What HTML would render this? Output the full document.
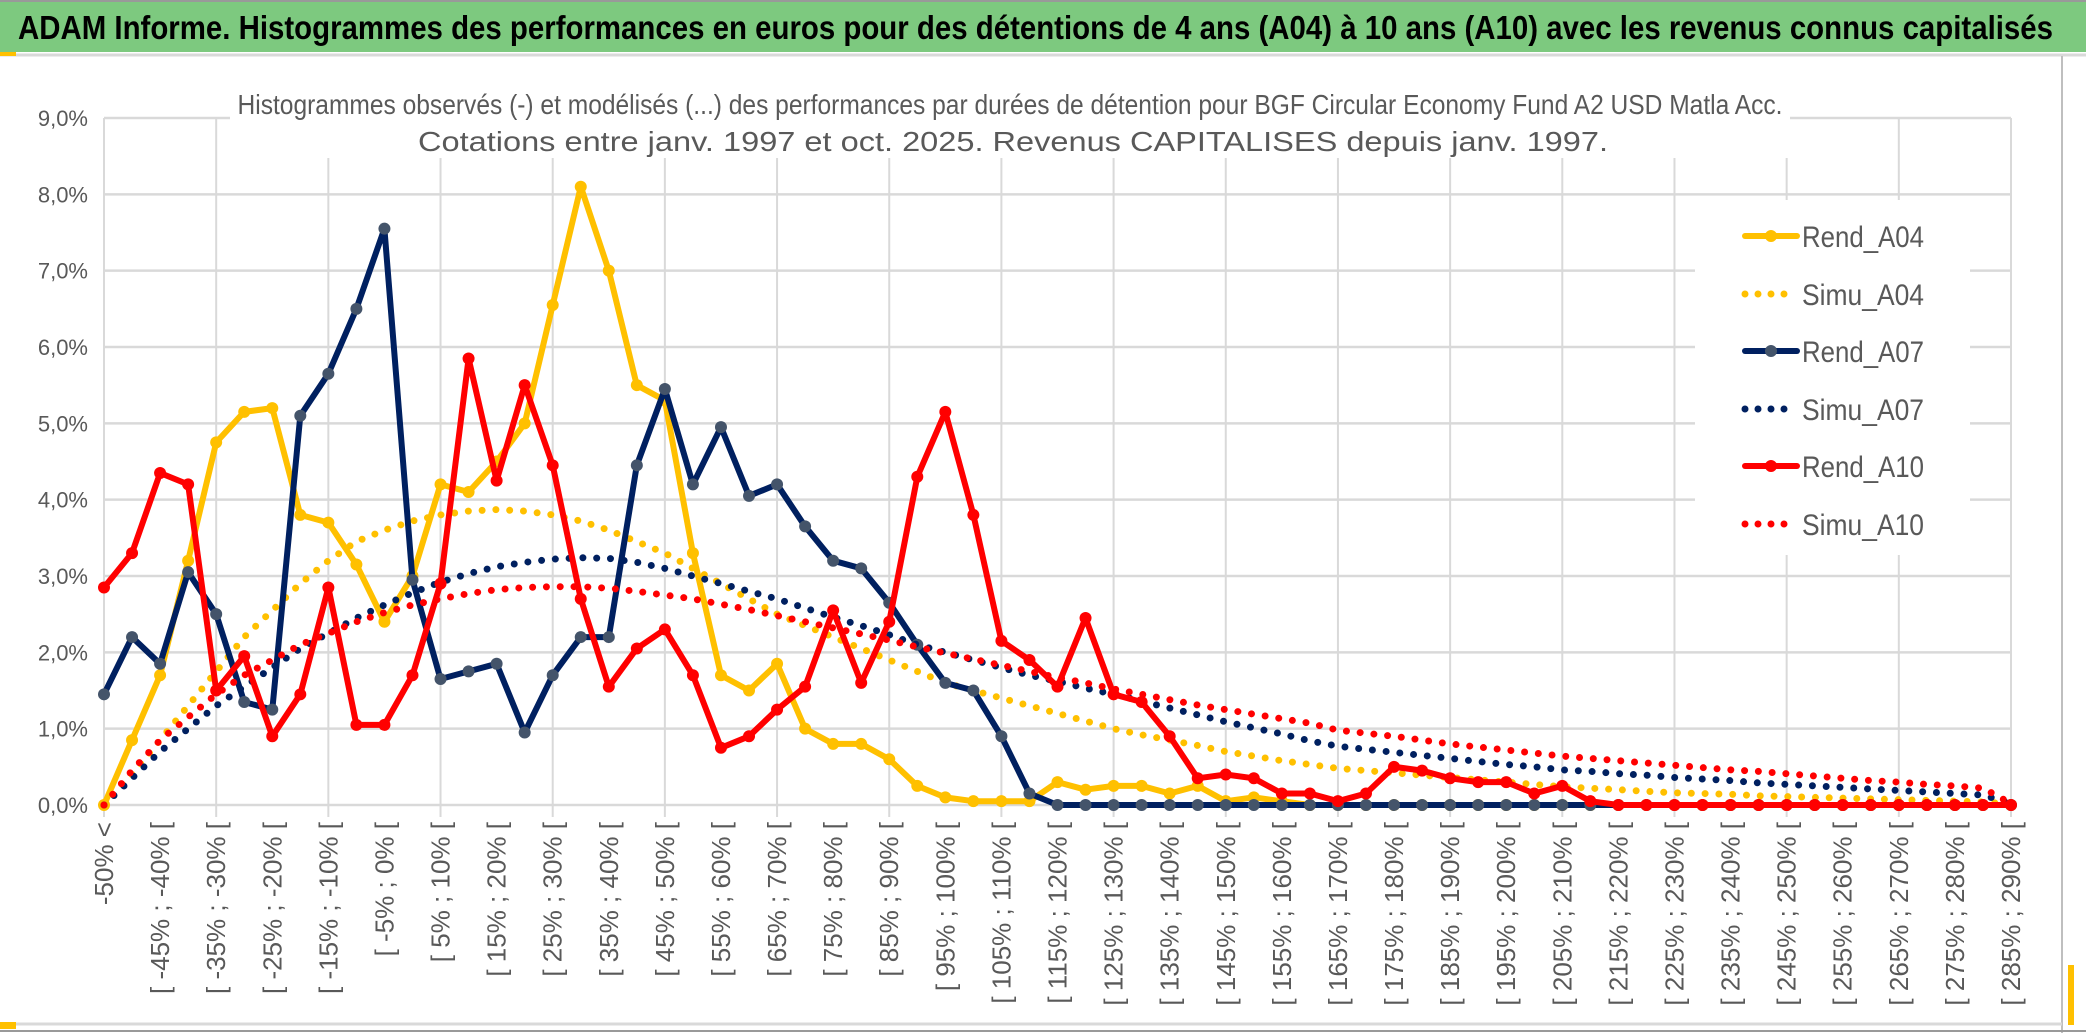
<!DOCTYPE html>
<html><head><meta charset="utf-8">
<style>
html,body{margin:0;padding:0;background:#fff;}
svg{display:block;font-family:"Liberation Sans",sans-serif;}
</style></head>
<body>
<svg id="chart" width="2086" height="1033" viewBox="0 0 2086 1033" xmlns="http://www.w3.org/2000/svg">
  <rect x="0" y="0" width="2086" height="1033" fill="#fff"/>
  <rect x="0" y="2" width="2086" height="50" fill="#7dc97f"/>
  <line x1="0" y1="1" x2="2086" y2="1" stroke="#999" stroke-width="2"/>
  <line x1="0" y1="55" x2="2086" y2="55" stroke="#d9d9d9" stroke-width="3"/>
  <rect x="0" y="52" width="16" height="4" fill="#ffc000"/>
  <text x="18" y="39" font-size="33" font-weight="bold" fill="#000" textLength="2035" lengthAdjust="spacingAndGlyphs">ADAM Informe. Histogrammes des performances en euros pour des détentions de 4 ans (A04) à 10 ans (A10) avec les revenus connus capitalisés</text>
  <line x1="2062" y1="56" x2="2062" y2="1033" stroke="#bfbfbf" stroke-width="2"/>
  <line x1="0" y1="1024" x2="2062" y2="1024" stroke="#d9d9d9" stroke-width="3"/>
  <line x1="0" y1="1031" x2="2086" y2="1031" stroke="#999" stroke-width="2"/>
  <rect x="0" y="1022" width="16" height="7" fill="#ffc000"/>
  <rect x="2068" y="965" width="6" height="60" fill="#ffc000"/>
  <g id="grid"></g>
  <rect x="230" y="82" width="1560" height="76" fill="#fff"/>
  <text x="1010" y="114" font-size="28" fill="#595959" text-anchor="middle" textLength="1545" lengthAdjust="spacingAndGlyphs">Histogrammes observés (-) et modélisés (...) des performances par durées de détention pour BGF Circular Economy Fund A2 USD Matla Acc.</text>
  <text x="1013" y="151" font-size="28" fill="#595959" text-anchor="middle" textLength="1190" lengthAdjust="spacingAndGlyphs">Cotations entre janv. 1997 et oct. 2025. Revenus CAPITALISES depuis janv. 1997.</text>
  <g id="yaxis"></g>
  <g id="xaxis"></g>
  <g id="series"></g>
  <g id="legend"></g>
</svg>
<script>
const rendA04 = [0,0.85,1.7,3.2,4.75,5.15,5.2,3.8,3.7,3.15,2.4,3.0,4.2,4.1,4.5,5.0,6.55,8.1,7.0,5.5,5.3,3.3,1.7,1.5,1.85,1.0,0.8,0.8,0.6,0.25,0.1,0.05,0.05,0.05,0.3,0.2,0.25,0.25,0.15,0.25,0.05,0.1,0.05,0,0,0,0,0,0,0,0,0,0,0,0,0,0,0,0,0,0,0,0,0,0,0,0,0,0];
const simuA04 = [0,0.4,0.85,1.3,1.75,2.2,2.55,2.9,3.2,3.45,3.6,3.72,3.8,3.85,3.87,3.85,3.8,3.72,3.6,3.45,3.3,3.1,2.9,2.7,2.5,2.35,2.2,2.05,1.9,1.75,1.6,1.5,1.4,1.3,1.2,1.1,1.0,0.92,0.85,0.78,0.7,0.64,0.58,0.53,0.48,0.45,0.42,0.39,0.36,0.33,0.3,0.27,0.24,0.22,0.2,0.18,0.16,0.15,0.14,0.12,0.11,0.1,0.09,0.08,0.07,0.06,0.05,0.04,0.01];
const rendA07 = [1.45,2.2,1.85,3.05,2.5,1.35,1.25,5.1,5.65,6.5,7.55,2.95,1.65,1.75,1.85,0.95,1.7,2.2,2.2,4.45,5.45,4.2,4.95,4.05,4.2,3.65,3.2,3.1,2.65,2.1,1.6,1.5,0.9,0.15,0,0,0,0,0,0,0,0,0,0,0,0,0,0,0,0,0,0,0,0,0,0,0,0,0,0,0,0,0,0,0,0,0,0,0];
const simuA07 = [0,0.35,0.7,1.0,1.3,1.55,1.8,2.05,2.25,2.45,2.62,2.78,2.92,3.03,3.12,3.18,3.22,3.24,3.23,3.18,3.1,3.0,2.9,2.8,2.7,2.58,2.46,2.35,2.23,2.1,2.0,1.9,1.8,1.7,1.62,1.53,1.45,1.36,1.27,1.18,1.09,1.01,0.93,0.84,0.77,0.73,0.69,0.65,0.61,0.57,0.53,0.5,0.46,0.44,0.41,0.39,0.36,0.34,0.32,0.29,0.27,0.25,0.23,0.21,0.19,0.17,0.15,0.13,0.02];
const rendA10 = [2.85,3.3,4.35,4.2,1.5,1.95,0.9,1.45,2.85,1.05,1.05,1.7,2.9,5.85,4.25,5.5,4.45,2.7,1.55,2.05,2.3,1.7,0.75,0.9,1.25,1.55,2.55,1.6,2.4,4.3,5.15,3.8,2.15,1.9,1.55,2.45,1.45,1.35,0.9,0.35,0.4,0.35,0.15,0.15,0.05,0.15,0.5,0.45,0.35,0.3,0.3,0.15,0.25,0.05,0,0,0,0,0,0,0,0,0,0,0,0,0,0,0];
const simuA10 = [0,0.45,0.85,1.15,1.45,1.7,1.9,2.1,2.25,2.4,2.52,2.62,2.7,2.77,2.82,2.85,2.86,2.86,2.84,2.8,2.75,2.7,2.63,2.56,2.48,2.4,2.32,2.24,2.16,2.07,1.99,1.91,1.83,1.75,1.67,1.6,1.52,1.45,1.38,1.31,1.25,1.19,1.13,1.07,0.98,0.94,0.9,0.85,0.8,0.76,0.72,0.68,0.64,0.61,0.58,0.55,0.52,0.49,0.46,0.44,0.41,0.38,0.35,0.32,0.3,0.27,0.25,0.22,0.02];
const yTicks = [0,1,2,3,4,5,6,7,8,9];
const categoryCount = 69;
const xLabels = [];
for (let k = 0; k <= 33; k++) {
  xLabels.push(k === 0 ? "-50% <" : "[ " + (10*k-55) + "% ; " + (10*k-50) + "% [");
}
xLabels.push("[ 285% ; 290% [");

const NS = "http://www.w3.org/2000/svg";
const L = 104, R = 2011, Y0 = 805, Y9 = 118;
function xs(i){ return L + i*(R-L)/(categoryCount-1); }
function ys(v){ return Y0 - v*(Y0-Y9)/9; }
function mk(tag, attrs, parent){
  const e = document.createElementNS(NS, tag);
  for (const k in attrs) e.setAttribute(k, attrs[k]);
  parent.appendChild(e); return e;
}
const grid = document.getElementById('grid');
yTicks.forEach(t => {
  const g = mk('line',{x1:L,x2:R,y1:ys(t),y2:ys(t),stroke:'#d9d9d9','stroke-width':2.5},grid);
  
  
});
for (let i = 0; i < categoryCount; i += 4) {
  const g = mk('line',{x1:xs(i),x2:xs(i),y1:Y9,y2:Y0+12,stroke:'#d9d9d9','stroke-width':2},grid);
  
  
}
const yaxis = document.getElementById('yaxis');
yTicks.forEach(t => {
  const tx = mk('text',{x:88,y:ys(t)+8,'font-size':22,fill:'#595959','text-anchor':'end'},yaxis);
  tx.textContent = t.toFixed(1).replace('.',',') + '%';
  
  
});
const xaxis = document.getElementById('xaxis');
xLabels.forEach((lab, k) => {
  const x = xs(2*k) + 9, y = 822;
  const tx = mk('text',{x:x,y:y,'font-size':26,fill:'#595959','text-anchor':'end',transform:'rotate(-90 '+x+' '+y+')'},xaxis);
  tx.textContent = lab;
  
  
});
const series = document.getElementById('series');
function path(vals){ return vals.map((v,i)=>(i?'L':'M')+xs(i).toFixed(1)+' '+ys(v).toFixed(1)).join(' '); }
function solid(vals, color, marker, name){
  const g = mk('g',{},series);
  
  
  mk('path',{d:path(vals),fill:'none',stroke:color,'stroke-width':6,'stroke-linejoin':'round'},g);
  vals.forEach((v,i)=>{
    const c = mk('circle',{cx:xs(i),cy:ys(v),r:6,fill:marker},g);
    
    
  });
}
function dotted(vals, color, name){
  const g = mk('g',{},series);
  
  
  mk('path',{d:path(vals),fill:'none',stroke:color,'stroke-width':7,'stroke-linecap':'round','stroke-dasharray':'0 13.8'},g);
}
solid(rendA04,'#ffc000','#ffc000','series-rend-a04');
dotted(simuA04,'#ffc000','series-simu-a04');
solid(rendA07,'#002060','#44546a','series-rend-a07');
dotted(simuA07,'#002060','series-simu-a07');
solid(rendA10,'#ff0000','#ff0000','series-rend-a10');
dotted(simuA10,'#ff0000','series-simu-a10');

const legend = document.getElementById('legend');
const lb = mk('rect',{x:1695,y:200,width:275,height:355,fill:'#fff'},legend);


const entries = [
  ['Rend_A04','#ffc000','#ffc000',false],
  ['Simu_A04','#ffc000',null,true],
  ['Rend_A07','#002060','#44546a',false],
  ['Simu_A07','#002060',null,true],
  ['Rend_A10','#ff0000','#ff0000',false],
  ['Simu_A10','#ff0000',null,true]
];
const legendY = [236, 294, 351, 409, 466, 524];
entries.forEach((e, i) => {
  const g = mk('g',{},legend);
  
  
  const y = legendY[i];
  if (e[3]) {
    mk('line',{x1:1745,x2:1797,y1:y,y2:y,stroke:e[1],'stroke-width':7,'stroke-linecap':'round','stroke-dasharray':'0 13'},g);
  } else {
    mk('line',{x1:1745,x2:1797,y1:y,y2:y,stroke:e[1],'stroke-width':6,'stroke-linecap':'round'},g);
    mk('circle',{cx:1771,cy:y,r:6,fill:e[2]},g);
  }
  const t = mk('text',{x:1802,y:y+11,'font-size':30,fill:'#595959',textLength:122,lengthAdjust:'spacingAndGlyphs'},g);
  t.textContent = e[0];
});
</script>
</body></html>
